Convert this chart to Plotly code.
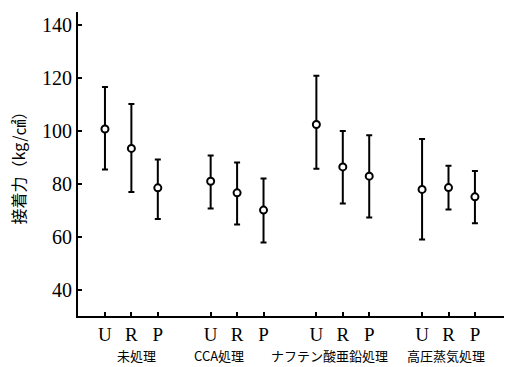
import plotly.graph_objects as go

groups = ["未処理", "CCA処理", "ナフテン酸亜鉛処理", "高圧蒸気処理"]
sub_labels = ["U", "R", "P"]
x_pos = [0, 1, 2, 4, 5, 6, 8, 9, 10, 12, 13, 14]
means = [100.8, 93.5, 78.6, 81.1, 76.7, 70.2, 102.5, 86.5, 83.0, 78.0, 78.7, 75.2]
upper = [116.7, 110.3, 89.3, 90.8, 88.2, 82.1, 120.9, 100.1, 98.5, 97.0, 86.9, 85.0]
lower = [85.5, 77.0, 66.8, 70.8, 64.8, 58.0, 85.8, 72.7, 67.4, 59.1, 70.4, 65.2]
group_centers = [1.2, 4.3, 8.5, 12.9]
y_ticks = [40, 60, 80, 100, 120, 140]

err_plus = [u - m for u, m in zip(upper, means)]
err_minus = [m - l for m, l in zip(means, lower)]

fig = go.Figure()
fig.add_trace(go.Scatter(
    x=x_pos, y=means, mode="markers",
    marker=dict(symbol="circle", size=7, color="white",
                line=dict(color="black", width=2)),
    error_y=dict(type="data", symmetric=False, array=err_plus,
                 arrayminus=err_minus, color="black", thickness=2, width=3),
    showlegend=False,
))

for g, c in zip(groups, group_centers):
    fig.add_annotation(x=c, y=0, xref="x", yref="paper", text=g,
                       showarrow=False, yanchor="top", yshift=-28,
                       font=dict(family="Noto Sans CJK JP", size=13, color="black"))

serif = "Liberation Serif"
fig.update_layout(
    width=508, height=367,
    margin=dict(l=78, r=4, t=12, b=51),
    plot_bgcolor="white", paper_bgcolor="white",
    xaxis=dict(range=[-1.02, 15.1], tickvals=x_pos,
               ticktext=sub_labels * 4, showline=True, linecolor="black",
               linewidth=2, ticks="inside", ticklen=4, tickwidth=1.5,
               tickcolor="black", showgrid=False, zeroline=False,
               automargin=False,
               tickfont=dict(family=serif, size=19, color="black")),
    yaxis=dict(range=[30.2, 145], tickvals=y_ticks, showline=True,
               linecolor="black", linewidth=2, ticks="inside", ticklen=4,
               tickwidth=1.5, tickcolor="black", showgrid=False,
               zeroline=False, automargin=False,
               tickfont=dict(family=serif, size=20, color="black"),
               title=dict(text="接着力（kg/㎠）", standoff=12,
                          font=dict(family="Noto Sans CJK JP", size=16,
                                    color="black"))),
)

fig.write_html("out.html", config={"displayModeBar": False},
               post_script="document.body.style.margin='0';document.body.style.padding='0';")
